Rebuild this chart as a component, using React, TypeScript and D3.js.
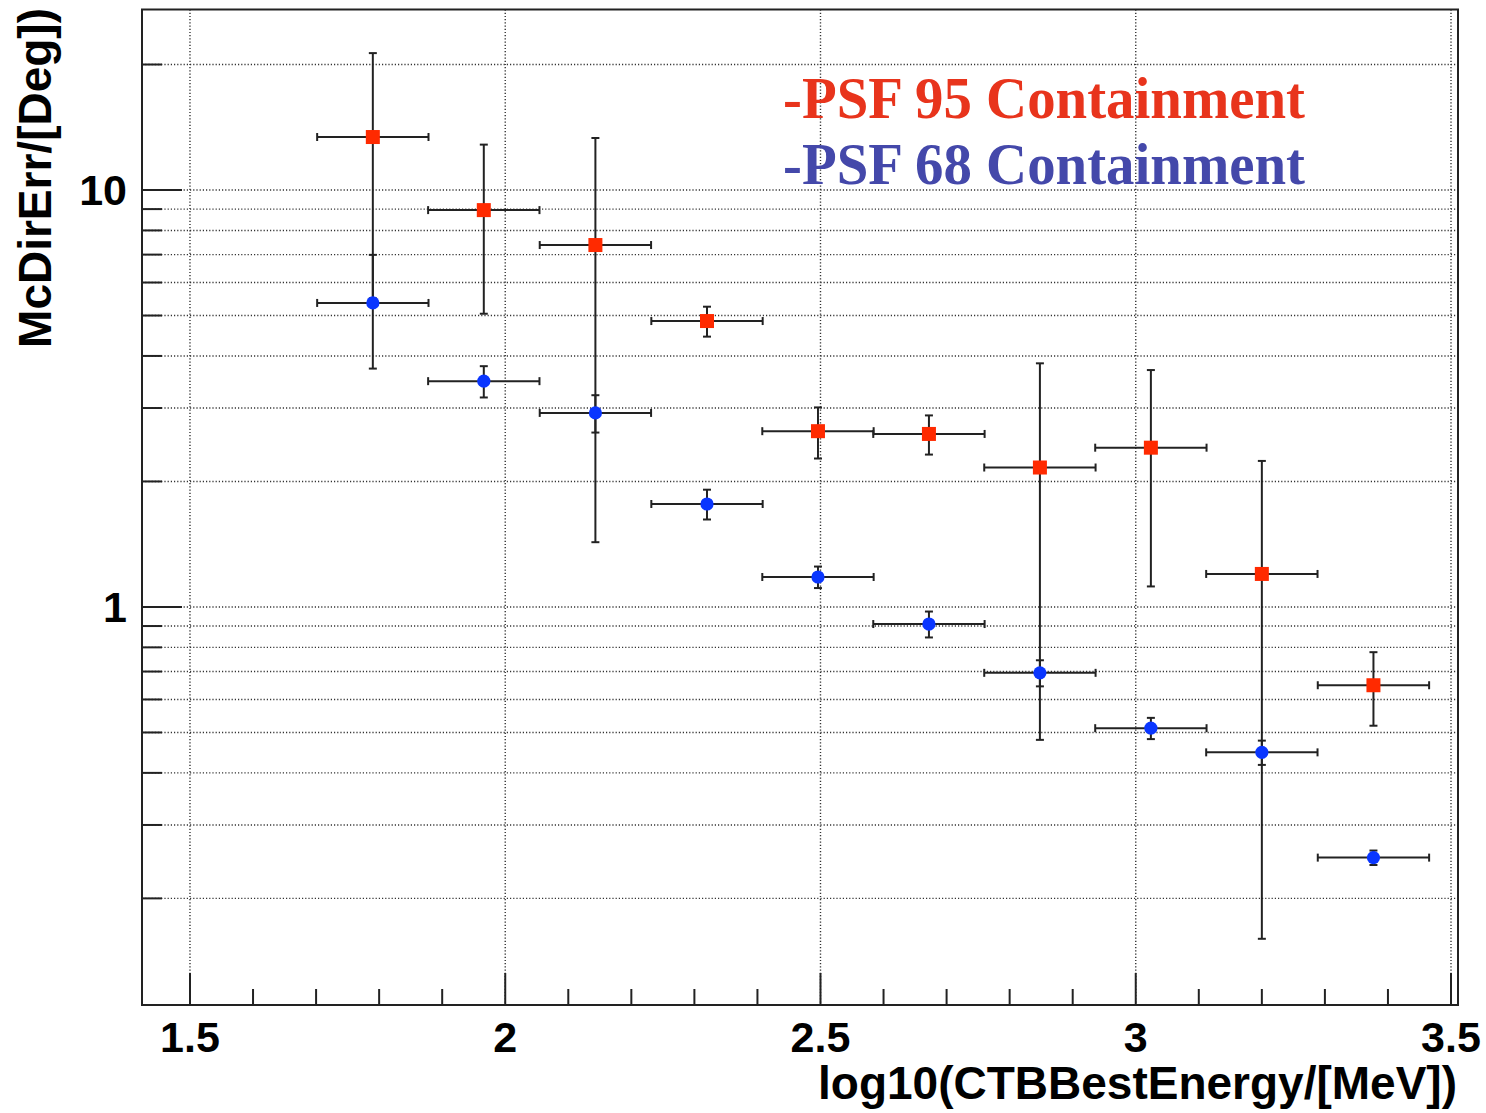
import React from "react";
import * as d3 from "d3";

// ---- data ----
const binCenters = [1.790, 1.966, 2.143, 2.320, 2.496, 2.672, 2.848, 3.024, 3.200, 3.377];
const binHalfWidth = 0.0883;
const psf95 = [13.4, 8.95, 7.38, 4.85, 2.64, 2.60, 2.16, 2.41, 1.20, 0.649];
const psf95Err = [7.9, 3.9, 5.95, 0.40, 0.37, 0.28, 1.68, 1.29, 1.04, 0.13];
const psf68 = [5.36, 3.48, 2.92, 1.766, 1.18, 0.910, 0.695, 0.512, 0.448, 0.2505];
const psf68Err = [1.63, 0.30, 0.30, 0.145, 0.07, 0.065, 0.05, 0.03, 0.03, 0.01];
const xDomain = [1.4239, 3.5111];
const yDomain = [0.111, 27.1];
const xMajorTicks = [1.5, 2, 2.5, 3, 3.5];
const xMinorTicks = [1.6, 1.7, 1.8, 1.9, 2.1, 2.2, 2.3, 2.4, 2.6, 2.7, 2.8, 2.9, 3.1, 3.2, 3.3, 3.4];
const yMajorTicks = [1, 10];
const yMinorTicks = [0.2, 0.3, 0.4, 0.5, 0.6, 0.7, 0.8, 0.9, 2, 3, 4, 5, 6, 7, 8, 9, 20];
const legendLabels = ["-PSF 95 Containment", "-PSF 68 Containment"];
const xTitle = "log10(CTBBestEnergy/[MeV])";
const yTitle = "McDirErr/[Deg])";

const W = 1486, H = 1113;
const L = 142, R = 1458, T = 9.5, B = 1005;

const sans = "'Liberation Sans', Arial, Helvetica, sans-serif";
const serif = "'Liberation Serif', 'Times New Roman', serif";
const lineCol = "#222";
const gridCol = "#333";

export default function App() {
  const x = d3.scaleLinear().domain(xDomain).range([L, R]);
  const y = d3.scaleLog().domain(yDomain).range([B, T]);

  const series = [
    { vals: psf95, errs: psf95Err, color: "#ff2a00", shape: "square" },
    { vals: psf68, errs: psf68Err, color: "#0a36ff", shape: "circle" },
  ];

  return (
    <svg width={W} height={H} style={{ position: "absolute", left: 0, top: 0, background: "#fff" }}>
      <rect x={0} y={0} width={W} height={H} fill="#fff" />
      {/* grid */}
      <g stroke={gridCol} strokeWidth={1.4} strokeDasharray="1.2,2">
        {xMajorTicks.map((t) => (
          <line key={"gx" + t} x1={x(t)} x2={x(t)} y1={T} y2={B} />
        ))}
        {[...yMajorTicks, ...yMinorTicks].map((t) => (
          <line key={"gy" + t} x1={L} x2={R} y1={y(t)} y2={y(t)} />
        ))}
      </g>
      {/* ticks */}
      <g stroke={lineCol} strokeWidth={2}>
        {xMajorTicks.map((t) => (
          <line key={"xt" + t} x1={x(t)} x2={x(t)} y1={B} y2={B - 32} />
        ))}
        {xMinorTicks.map((t) => (
          <line key={"xm" + t} x1={x(t)} x2={x(t)} y1={B} y2={B - 16} />
        ))}
        {yMajorTicks.map((t) => (
          <line key={"yt" + t} x1={L} x2={L + 40} y1={y(t)} y2={y(t)} />
        ))}
        {yMinorTicks.map((t) => (
          <line key={"ym" + t} x1={L} x2={L + 20} y1={y(t)} y2={y(t)} />
        ))}
      </g>
      {/* frame */}
      <rect x={L} y={T} width={R - L} height={B - T} fill="none" stroke={lineCol} strokeWidth={2} />
      {/* data */}
      {series.map((s, si) => (
        <g key={"s" + si}>
          {s.vals.map((v, i) => {
            const cx = x(binCenters[i]);
            const cy = y(v);
            const x0 = x(binCenters[i] - binHalfWidth);
            const x1 = x(binCenters[i] + binHalfWidth);
            const yTop = y(v + s.errs[i]);
            const yBot = y(Math.max(v - s.errs[i], yDomain[0]));
            return (
              <g key={i} stroke={lineCol} strokeWidth={2}>
                <line x1={x0} x2={x1} y1={cy} y2={cy} />
                <line x1={x0} x2={x0} y1={cy - 4} y2={cy + 4} />
                <line x1={x1} x2={x1} y1={cy - 4} y2={cy + 4} />
                <line x1={cx} x2={cx} y1={yTop} y2={yBot} />
                <line x1={cx - 4} x2={cx + 4} y1={yTop} y2={yTop} />
                <line x1={cx - 4} x2={cx + 4} y1={yBot} y2={yBot} />
              </g>
            );
          })}
          {s.vals.map((v, i) => {
            const cx = x(binCenters[i]);
            const cy = y(v);
            return s.shape === "square" ? (
              <rect key={"m" + i} x={cx - 7} y={cy - 7} width={14} height={14} fill={s.color} />
            ) : (
              <circle key={"m" + i} cx={cx} cy={cy} r={6.6} fill={s.color} />
            );
          })}
        </g>
      ))}
      {/* tick labels */}
      <g fontFamily={sans} fontWeight="bold" fontSize={43} fill="#000">
        {xMajorTicks.map((t) => (
          <text key={"xl" + t} x={x(t)} y={1052} textAnchor="middle">
            {d3.format("")(t)}
          </text>
        ))}
        {yMajorTicks.map((t) => (
          <text key={"yl" + t} x={127} y={y(t) + 15} textAnchor="end">
            {t}
          </text>
        ))}
      </g>
      {/* axis titles */}
      <text x={1457} y={1099} textAnchor="end" fontFamily={sans} fontWeight="bold" fontSize={46}>
        {xTitle}
      </text>
      <text
        transform="translate(51,8) rotate(-90)"
        textAnchor="end"
        fontFamily={sans}
        fontWeight="bold"
        fontSize={46}
      >
        {yTitle}
      </text>
      {/* legend */}
      <text x={783} y={118} fontFamily={serif} fontWeight="bold" fontSize={59} fill="#e8341c"
        textLength={522} lengthAdjust="spacingAndGlyphs">
        {legendLabels[0]}
      </text>
      <text x={783} y={184} fontFamily={serif} fontWeight="bold" fontSize={59} fill="#4448aa"
        textLength={522} lengthAdjust="spacingAndGlyphs">
        {legendLabels[1]}
      </text>
    </svg>
  );
}
